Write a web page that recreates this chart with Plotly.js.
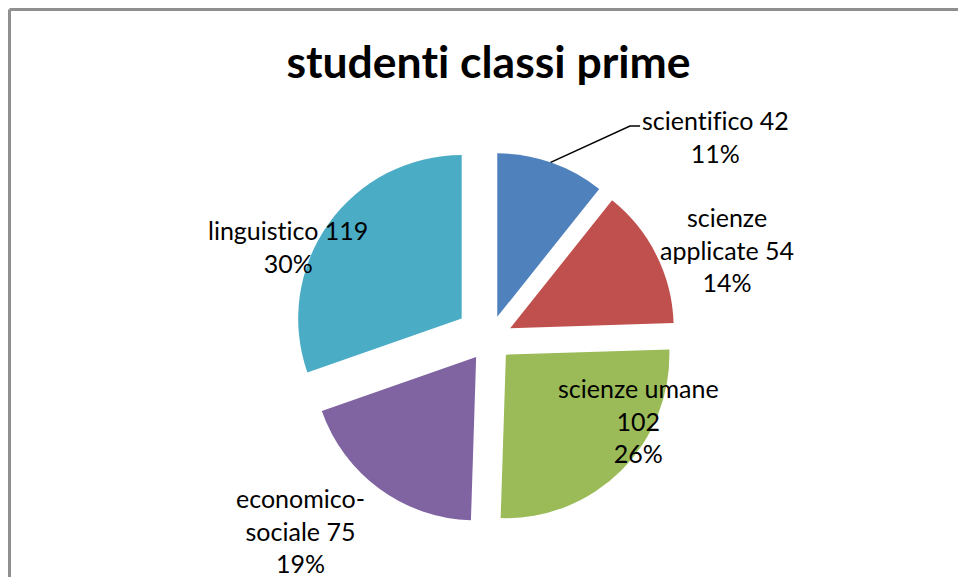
<!DOCTYPE html>
<html>
<head>
<meta charset="utf-8">
<script src="https://cdn.plot.ly/plotly-3.0.1.min.js"></script>
<style>
html,body{margin:0;padding:0;background:#fff;}
#chart{width:958px;height:577px;}
text{font-variant-ligatures:none !important;font-feature-settings:"liga" 0,"clig" 0,"dlig" 0 !important;}
</style>
</head>
<body>
<div id="chart"></div>
<script>
// ---- data ----
var categories = ["scientifico", "scienze applicate", "scienze umane", "economico-sociale", "linguistico"];
var values = [42, 54, 102, 75, 119];
var displayNames = ["scientifico", "scienze<br>applicate", "scienze umane", "economico-<br>sociale", "linguistico"];
var valueSeparators = [" ", " ", "<br>", " ", " "];
var colors = ["#4F81BD", "#C0504D", "#9BBB59", "#8064A2", "#4BACC6"];
var pulls = [0.14, 0.14, 0.14, 0.14, 0.21];
var titleText = "studenti classi prime";

// label placement (paper pixel positions of label block centres)
var labelPos = [[715, 136], [727, 249], [638, 420], [300, 530], [288, 247]];

var W = 958, H = 577;
var total = values.reduce(function (a, b) { return a + b; }, 0);
var FONT = "Lato, 'Noto Sans', sans-serif";

var annotations = categories.map(function (c, i) {
  var pct = Math.round(values[i] / total * 100);
  return {
    xref: "paper", yref: "paper",
    x: labelPos[i][0] / W, y: 1 - labelPos[i][1] / H,
    xanchor: "center", yanchor: "middle",
    text: displayNames[i] + valueSeparators[i] + values[i] + "<br>" + pct + "%",
    showarrow: false, align: "center",
    font: {family: FONT, size: 25, color: "#000"}
  };
});

function px(x) { return (x / W).toFixed(4); }
function py(y) { return (1 - y / H).toFixed(4); }

var data = [{
  type: "pie",
  labels: categories,
  values: values,
  marker: {colors: colors, line: {width: 0}},
  pull: pulls,
  sort: false,
  direction: "clockwise",
  rotation: 0,
  textinfo: "none",
  hoverinfo: "none",
  showlegend: false,
  domain: {x: [291.8 / W, 687.6 / W], y: [1 - 536.3 / H, 1 - 140.6 / H]}
}];

var layout = {
  width: W, height: H,
  margin: {l: 0, r: 0, t: 0, b: 0},
  paper_bgcolor: "#fff",
  showlegend: false,
  title: {
    text: "<b>" + titleText + "</b>",
    x: 488.5 / W, xref: "paper", xanchor: "center",
    y: 1 - 62 / H, yref: "paper", yanchor: "middle",
    font: {family: FONT, size: 44.5, color: "#000"}
  },
  annotations: annotations,
  shapes: [
    {type: "path", xref: "paper", yref: "paper",
     path: "M" + px(550.7) + "," + py(162.3) + " L" + px(630) + "," + py(126) + " L" + px(640) + "," + py(126),
     line: {color: "#000", width: 1.5}},
    {type: "line", xref: "paper", yref: "paper", x0: 9.5 / W, x1: 1.02, y0: py(9.5), y1: py(9.5),
     line: {color: "#8f8f8f", width: 3}},
    {type: "line", xref: "paper", yref: "paper", x0: 9.5 / W, x1: 9.5 / W, y0: py(9.5), y1: -0.02,
     line: {color: "#8f8f8f", width: 3}}
  ]
};

Plotly.newPlot("chart", data, layout, {staticPlot: true, displayModeBar: false});
</script>
</body>
</html>
